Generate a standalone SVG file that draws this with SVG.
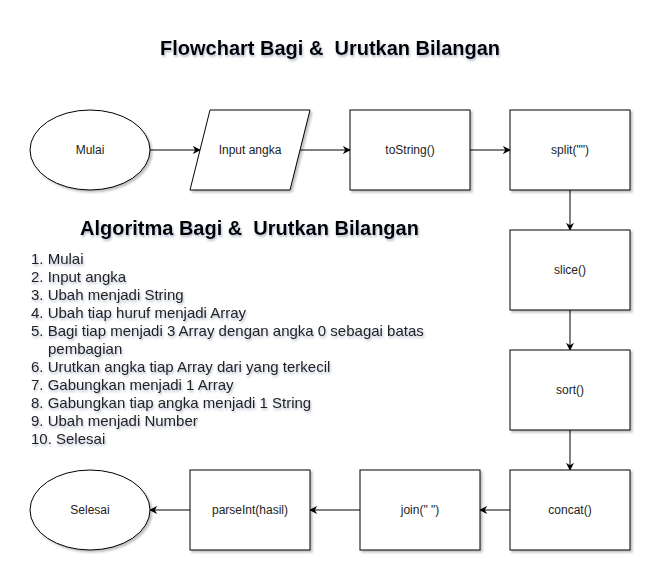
<svg xmlns="http://www.w3.org/2000/svg" width="653" height="573" viewBox="0 0 653 573">
<defs>
<filter id="sh" x="-10%" y="-10%" width="130%" height="130%">
<feDropShadow dx="2" dy="2" stdDeviation="1.2" flood-color="#000" flood-opacity="0.25"/>
</filter>
<filter id="tsh" x="-5%" y="-20%" width="110%" height="160%">
<feDropShadow dx="1" dy="2" stdDeviation="1" flood-color="#5a6a90" flood-opacity="0.45"/>
</filter>
<marker id="arr" viewBox="0 0 10 10" refX="9" refY="5" markerWidth="8" markerHeight="8" markerUnits="userSpaceOnUse" orient="auto">
<path d="M0,0 L10,5 L0,10 L3,5 Z" fill="#000"/>
</marker>
</defs>
<style>
.shape{fill:#fff;stroke:#000;stroke-width:1;filter:url(#sh)}
.lbl{font-family:"Liberation Sans",Arial,sans-serif;font-size:12px;fill:#222;text-anchor:middle;dominant-baseline:central}
.title{font-family:"Liberation Sans",Arial,sans-serif;font-size:20px;font-weight:bold;fill:#000;filter:url(#tsh);white-space:pre}
.list{font-family:"Liberation Sans",Arial,sans-serif;font-size:15px;fill:#222;filter:url(#tsh)}
.edge{fill:none;stroke:#000;stroke-width:1;marker-end:url(#arr)}
</style>
<rect width="653" height="573" fill="#fff"/>
<text class="title" x="160" y="55" xml:space="preserve">Flowchart Bagi &amp;  Urutkan Bilangan</text>
<text class="title" x="80" y="235" xml:space="preserve">Algoritma Bagi &amp;  Urutkan Bilangan</text>
<g id="algo" class="list">
<text x="31" y="264">1. Mulai</text>
<text x="31" y="282">2. Input angka</text>
<text x="31" y="300">3. Ubah menjadi String</text>
<text x="31" y="318">4. Ubah tiap huruf menjadi Array</text>
<text x="31" y="336">5. Bagi tiap menjadi 3 Array dengan angka 0 sebagai batas</text>
<text x="48" y="354">pembagian</text>
<text x="31" y="372">6. Urutkan angka tiap Array dari yang terkecil</text>
<text x="31" y="390">7. Gabungkan menjadi 1 Array</text>
<text x="31" y="408">8. Gabungkan tiap angka menjadi 1 String</text>
<text x="31" y="426">9. Ubah menjadi Number</text>
<text x="31" y="444">10. Selesai</text>
</g>
<g id="connectors">
<path class="edge" d="M150,150 L200,150"/>
<path class="edge" d="M300,150 L350,150"/>
<path class="edge" d="M470,150 L510,150"/>
<path class="edge" d="M570,190 L570,230"/>
<path class="edge" d="M570,310 L570,350"/>
<path class="edge" d="M570,430 L570,470"/>
<path class="edge" d="M510,510 L480,510"/>
<path class="edge" d="M360,510 L310,510"/>
<path class="edge" d="M190,510 L150,510"/>
</g>
<g id="mulai"><ellipse class="shape" cx="90" cy="150" rx="60" ry="40"/><text class="lbl" x="90" y="150">Mulai</text></g>
<g id="input"><polygon class="shape" points="210,110 310,110 290,190 190,190"/><text class="lbl" x="250" y="150">Input angka</text></g>
<g id="tostring"><rect class="shape" x="350" y="110" width="120" height="80"/><text class="lbl" x="410" y="150">toString()</text></g>
<g id="split"><rect class="shape" x="510" y="110" width="120" height="80"/><text class="lbl" x="570" y="150">split("")</text></g>
<g id="slice"><rect class="shape" x="510" y="230" width="120" height="80"/><text class="lbl" x="570" y="270">slice()</text></g>
<g id="sort"><rect class="shape" x="510" y="350" width="120" height="80"/><text class="lbl" x="570" y="390">sort()</text></g>
<g id="concat"><rect class="shape" x="510" y="470" width="120" height="80"/><text class="lbl" x="570" y="510">concat()</text></g>
<g id="join"><rect class="shape" x="360" y="470" width="120" height="80"/><text class="lbl" x="420" y="510" xml:space="preserve">join(" ")</text></g>
<g id="parseint"><rect class="shape" x="190" y="470" width="120" height="80"/><text class="lbl" x="250" y="510">parseInt(hasil)</text></g>
<g id="selesai"><ellipse class="shape" cx="90" cy="510" rx="60" ry="40"/><text class="lbl" x="90" y="510">Selesai</text></g>
</svg>
